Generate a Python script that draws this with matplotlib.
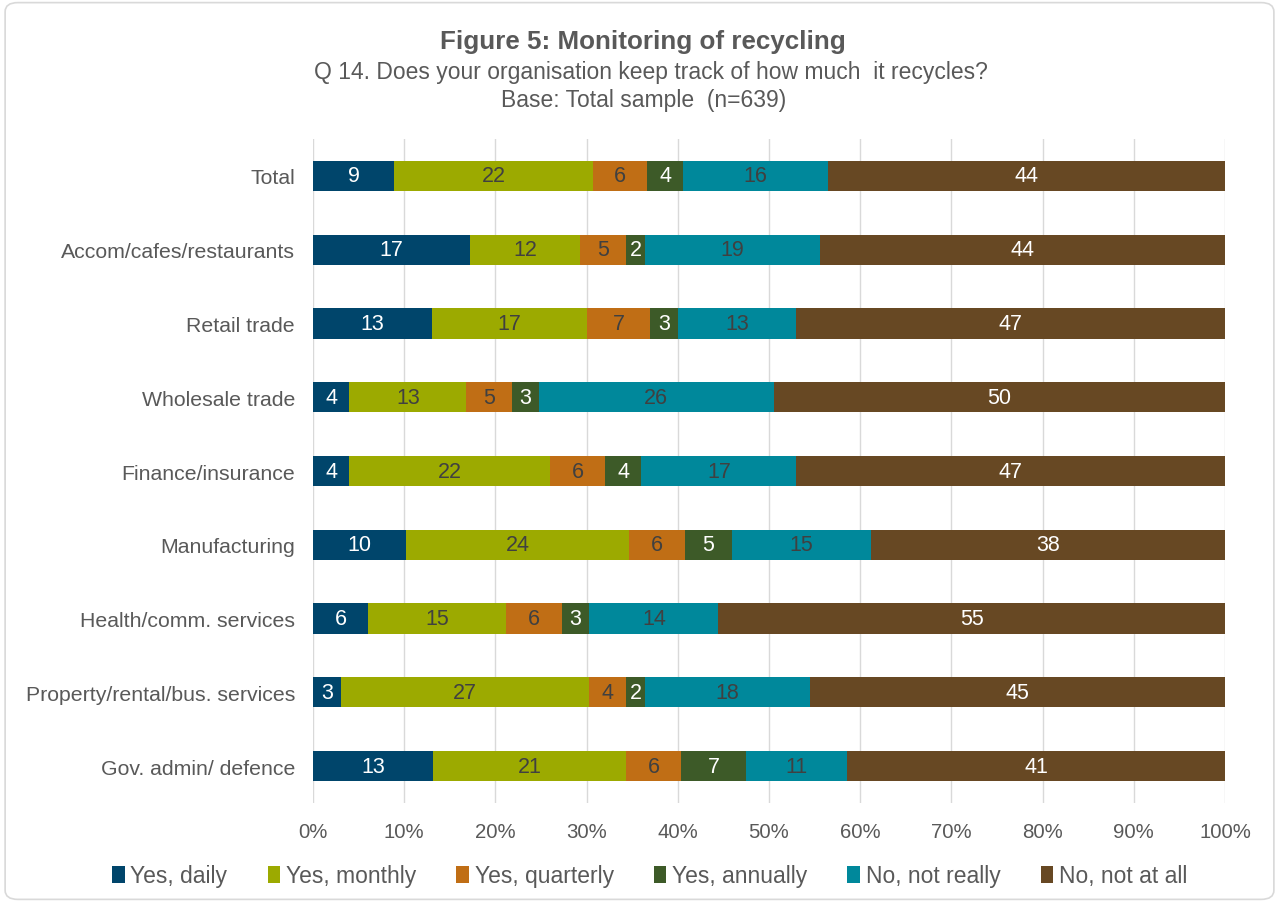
import matplotlib
matplotlib.use("Agg")
import matplotlib.pyplot as plt
from matplotlib.patches import FancyBboxPatch
import numpy as np

plt.rcParams['font.family'] = ['Liberation Sans', 'DejaVu Sans']

categories = ["Total", "Accom/cafes/restaurants", "Retail trade", "Wholesale trade",
              "Finance/insurance", "Manufacturing", "Health/comm. services",
              "Property/rental/bus. services", "Gov. admin/ defence"]
series_names = ["Yes, daily", "Yes, monthly", "Yes, quarterly", "Yes, annually",
                "No, not really", "No, not at all"]
yes_daily = [9, 17, 13, 4, 4, 10, 6, 3, 13]
yes_monthly = [22, 12, 17, 13, 22, 24, 15, 27, 21]
yes_quarterly = [6, 5, 7, 5, 6, 6, 6, 4, 6]
yes_annually = [4, 2, 3, 3, 4, 5, 3, 2, 7]
no_not_really = [16, 19, 13, 26, 17, 15, 14, 18, 11]
no_not_at_all = [44, 44, 47, 50, 47, 38, 55, 45, 41]
tick_labels = ["0%", "10%", "20%", "30%", "40%", "50%", "60%", "70%", "80%", "90%", "100%"]

colors = ["#00456B", "#9CAA00", "#C06E15", "#3D5A28", "#00889B", "#674823"]
label_colors = ["white", "#404040", "#404040", "white", "#404040", "white"]

data = np.array([yes_daily, yes_monthly, yes_quarterly, yes_annually, no_not_really, no_not_at_all], dtype=float)
totals = data.sum(axis=0)
pct = data / totals * 100

fig = plt.figure(figsize=(12.79, 9.04), dpi=100)
border = FancyBboxPatch((0.004, 0.004), 0.992, 0.992, boxstyle="round,pad=0,rounding_size=0.01",
                        transform=fig.transFigure, fill=False, edgecolor="#D9D9D9", linewidth=1.2)
fig.patches.append(border)

ax = fig.add_axes([0.2447, 0.1106, 0.7131, 0.7345])
y = np.arange(len(categories))
left = np.zeros(len(categories))
for i, name in enumerate(series_names):
    ax.barh(y, pct[i], left=left, height=0.41, color=colors[i], label=name, zorder=3)
    for j in range(len(categories)):
        ax.text(left[j] + pct[i][j] / 2, y[j], f"{int(data[i][j])}", ha="center", va="center",
                fontsize=15.5, color=label_colors[i], zorder=4)
    left += pct[i]

ax.set_xlim(0, 100)
ax.set_ylim(len(categories) - 0.5, -0.5)
ax.set_yticks(y)
ax.set_yticklabels(categories, fontsize=15.3, color="#595959")
ax.set_xticks(np.arange(0, 101, 10))
ax.set_xticklabels(tick_labels, fontsize=14.7, color="#595959")
ax.tick_params(axis="y", length=0, pad=13)
ax.tick_params(axis="x", length=0, pad=14)
ax.grid(axis="x", color="#D9D9D9", linewidth=1, zorder=0)
for s in ax.spines.values():
    s.set_visible(False)

fig.text(0.503, 0.953, "Figure 5: Monitoring of recycling", ha="center", va="center",
         fontsize=18.7, fontweight="bold", color="#595959")
fig.text(0.509, 0.920, "Q 14. Does your organisation keep track of how much  it recycles?", ha="center",
         va="center", fontsize=16.5, color="#595959")
fig.text(0.503, 0.889, "Base: Total sample  (n=639)", ha="center", va="center",
         fontsize=16.5, color="#595959")

leg = fig.legend(loc="center", bbox_to_anchor=(0.508, 0.030), ncol=6, frameon=False,
                 fontsize=16.5, handlelength=0.55, handleheight=0.8, handletextpad=0.25,
                 columnspacing=1.75, labelcolor="#595959")

fig.savefig("out.png", dpi=100)
